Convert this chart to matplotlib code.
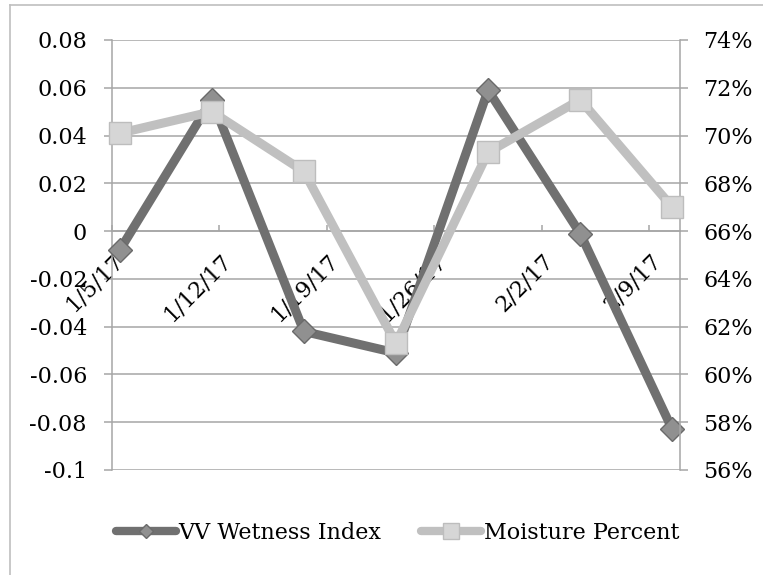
import datetime as dt
import matplotlib
matplotlib.use("Agg")
import matplotlib.pyplot as plt
import matplotlib.dates as mdates
from matplotlib.lines import Line2D
from matplotlib.ticker import FixedLocator, FuncFormatter

# ---- data ----
dates = ["2017-01-05", "2017-01-11", "2017-01-17", "2017-01-23",
         "2017-01-29", "2017-02-04", "2017-02-10"]
wetness_index = [-0.008, 0.055, -0.042, -0.051, 0.059, -0.001, -0.083]
moisture_percent = [0.701, 0.710, 0.685, 0.613, 0.693, 0.715, 0.670]
tick_dates = ["2017-01-05", "2017-01-12", "2017-01-19", "2017-01-26",
              "2017-02-02", "2017-02-09"]
tick_labels = ["1/5/17", "1/12/17", "1/19/17", "1/26/17", "2/2/17", "2/9/17"]
left_ticks = [-0.1, -0.08, -0.06, -0.04, -0.02, 0, 0.02, 0.04, 0.06, 0.08]
right_ticks = [0.56, 0.58, 0.60, 0.62, 0.64, 0.66, 0.68, 0.70, 0.72, 0.74]
series_names = ["VV Wetness Index", "Moisture Percent"]

plt.rcParams["font.family"] = ["DejaVu Serif", "Liberation Serif"]
FS = 16
GRID = "#a6a6a6"
DARK = "#707070"
LIGHT = "#c0c0c0"

x = [dt.datetime.strptime(d, "%Y-%m-%d") for d in dates]
tx = [dt.datetime.strptime(d, "%Y-%m-%d") for d in tick_dates]
half = dt.timedelta(hours=12)

fig = plt.figure(figsize=(7.63, 5.75), dpi=100)
ax = fig.add_axes([112 / 763, 1 - 470 / 575, (680 - 112) / 763, (470 - 40) / 575])
ax2 = ax.twinx()

# left axis
ax.set_ylim(left_ticks[0], left_ticks[-1])
ax.set_yticks(left_ticks)
ax.yaxis.set_major_formatter(FuncFormatter(lambda v, p: "0" if abs(v) < 1e-9 else f"{v:g}"))
ax.set_xlim(x[0] - half, x[-1] + half)
ax.yaxis.grid(True, color=GRID, lw=1.1)
ax.set_axisbelow(True)
for s in ["top", "right"]:
    ax.spines[s].set_visible(False)
ax.spines["left"].set_color(GRID)
ax.spines["left"].set_linewidth(1.1)
ax.spines["bottom"].set_position(("data", 0))
ax.spines["bottom"].set_color(GRID)
ax.spines["bottom"].set_linewidth(1.1)
ax.tick_params(axis="y", labelsize=FS, length=6, width=1.1, color=GRID, pad=12)
ax.xaxis.set_major_locator(FixedLocator([mdates.date2num(t - half) for t in tx]))
ax.xaxis.set_major_formatter(FuncFormatter(lambda v, p: ""))
ax.tick_params(axis="x", direction="in", length=4, width=1.1, color=GRID)

for t, lab in zip(tx, tick_labels):
    ax.annotate(lab, xy=(t, 0), xytext=(6, -13), textcoords="offset points",
                rotation=45, ha="right", va="top", fontsize=FS,
                annotation_clip=False, zorder=1)

# right axis
ax2.set_ylim(right_ticks[0], right_ticks[-1])
ax2.set_yticks(right_ticks)
ax2.yaxis.set_major_formatter(FuncFormatter(lambda v, p: f"{v * 100:.0f}%"))
for s in ["top", "bottom", "left"]:
    ax2.spines[s].set_visible(False)
ax2.spines["right"].set_color(GRID)
ax2.spines["right"].set_linewidth(1.1)
ax2.tick_params(axis="y", labelsize=FS, length=6, width=1.1, color=GRID, pad=11)

# series
ax.plot(x, wetness_index, color=DARK, lw=6.5, solid_joinstyle="miter",
        marker="D", ms=12, mfc="#909090", mec="#6a6a6a", mew=1, zorder=3,
        clip_on=False)
ax2.plot(x, moisture_percent, color=LIGHT, lw=6.5, solid_joinstyle="miter",
         marker="s", ms=16, mfc="#d6d6d6", mec="#bdbdbd", mew=1, zorder=3,
         clip_on=False)

# legend
h1 = Line2D([], [], color=DARK, lw=6, solid_capstyle="round", marker="D", ms=7,
            mfc="#909090", mec="#6a6a6a")
h2 = Line2D([], [], color=LIGHT, lw=6, solid_capstyle="round", marker="s", ms=12,
            mfc="#d6d6d6", mec="#bdbdbd")
fig.legend([h1, h2], series_names, loc="center", bbox_to_anchor=(0.521, 0.073),
           ncol=2, frameon=False, fontsize=FS, handlelength=2.7,
           handletextpad=0.12, columnspacing=1.8)

# chart border (left and top visible)
fig.add_artist(Line2D([10 / 763, 10 / 763], [0, 1 - 5 / 575], transform=fig.transFigure,
                      color="#bfbfbf", lw=1.2))
fig.add_artist(Line2D([10 / 763, 1], [1 - 5 / 575, 1 - 5 / 575], transform=fig.transFigure,
                      color="#bfbfbf", lw=1.2))

fig.savefig("out.png", dpi=100)
